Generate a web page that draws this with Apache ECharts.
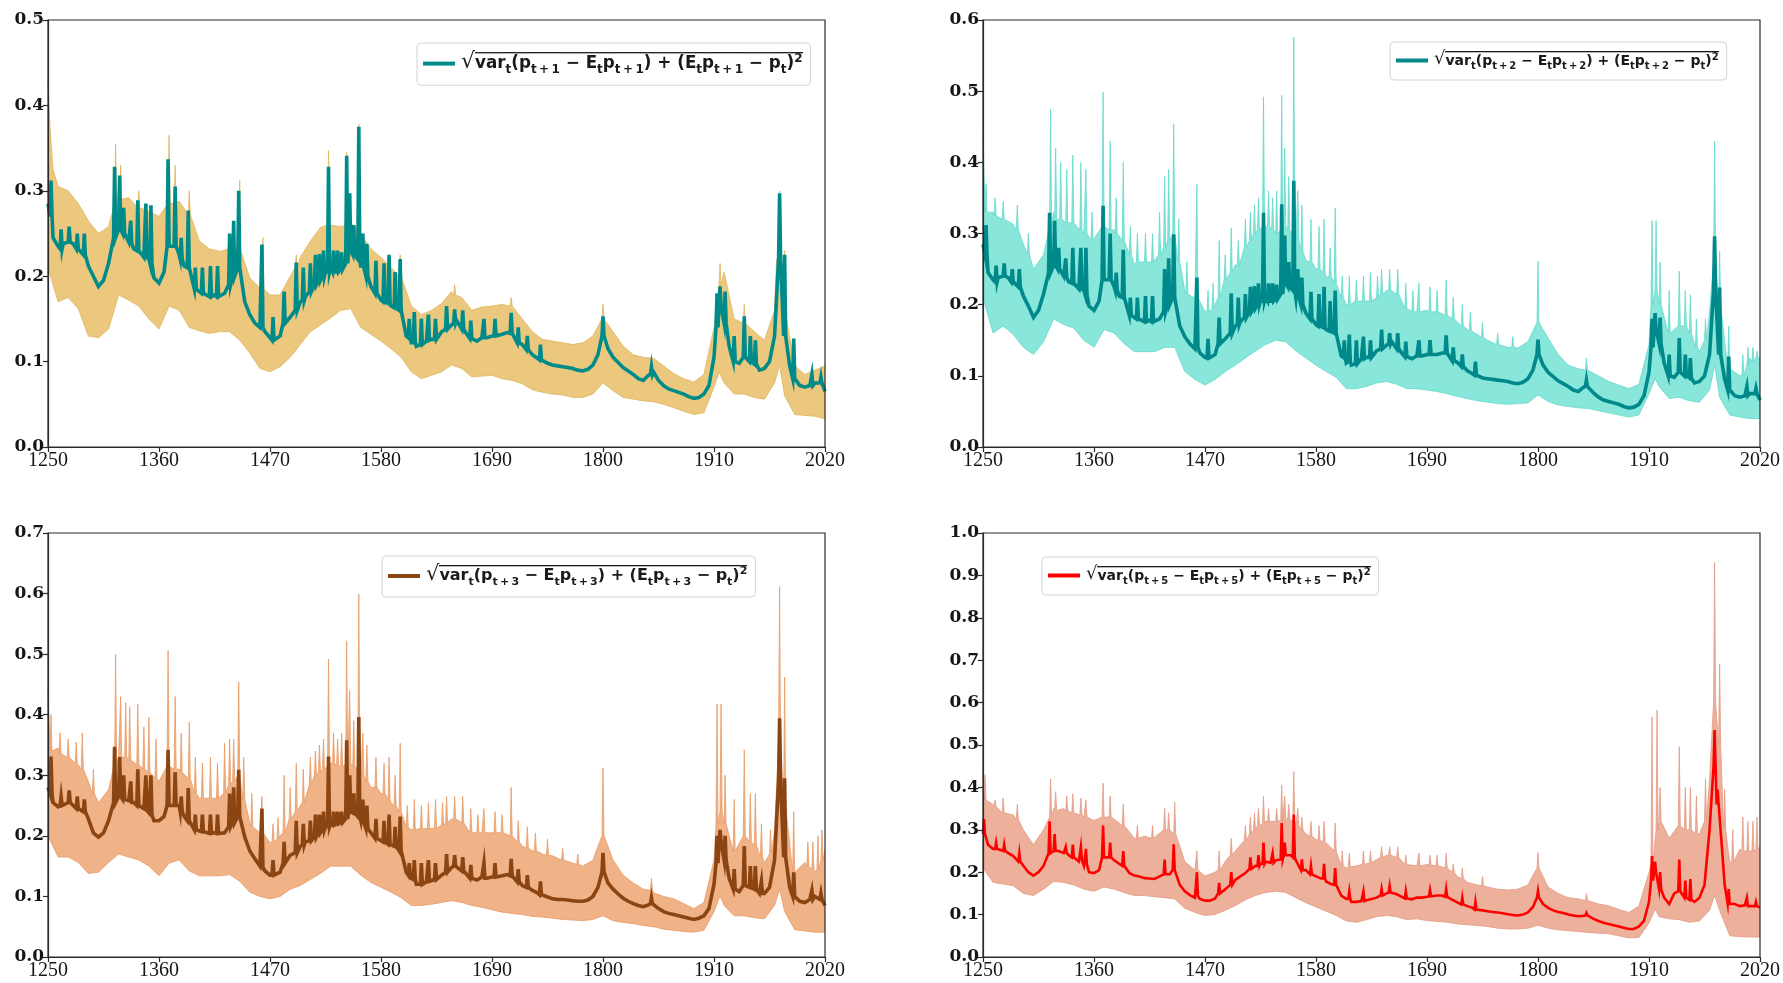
<!DOCTYPE html>
<html>
<head>
<meta charset="utf-8">
<script src="https://cdn.jsdelivr.net/npm/echarts@6/dist/echarts.min.js"></script>
<style>
  html, body { margin: 0; padding: 0; background: #ffffff; }
  #chart { width: 1783px; height: 983px; }
</style>
</head>
<body>
<div id="chart"></div>
<script>
// x-axis tick labels
const tickYears = [1250, 1360, 1470, 1580, 1690, 1800, 1910, 2020];

// sampling grids: 5-year steps for the point estimates, 10-year steps for the bands
const midYears = [];
for (let y = 1250; y <= 2020; y += 5) midYears.push(y);
const bandYears = [];
for (let y = 1250; y <= 2020; y += 10) bandYears.push(y);

// ---- horizon 1 ----
const midH1 = [
  0.285,0.245,0.235,0.238,0.252,0.238,0.232,0.245,0.212,0.200,
  0.188,0.195,0.215,0.245,0.255,0.245,0.240,0.232,0.228,0.222,
  0.220,0.198,0.192,0.205,0.245,0.240,0.225,0.212,0.205,0.188,
  0.182,0.180,0.176,0.178,0.174,0.180,0.200,0.200,0.215,0.170,
  0.155,0.145,0.140,0.135,0.128,0.125,0.130,0.148,0.152,0.165,
  0.170,0.176,0.185,0.190,0.198,0.205,0.210,0.205,0.208,0.215,
  0.240,0.225,0.210,0.200,0.188,0.180,0.172,0.168,0.165,0.162,
  0.150,0.130,0.122,0.118,0.120,0.124,0.126,0.130,0.135,0.140,
  0.143,0.148,0.140,0.132,0.125,0.124,0.128,0.128,0.130,0.130,
  0.132,0.134,0.133,0.125,0.120,0.114,0.108,0.104,0.100,0.098,
  0.096,0.095,0.094,0.093,0.092,0.090,0.089,0.091,0.096,0.108,
  0.140,0.115,0.105,0.099,0.093,0.089,0.085,0.080,0.078,0.084,
  0.088,0.078,0.072,0.068,0.066,0.064,0.062,0.059,0.057,0.058,
  0.062,0.072,0.105,0.165,0.150,0.118,0.100,0.098,0.105,0.100,
  0.098,0.090,0.092,0.100,0.130,0.250,0.140,0.095,0.078,0.072,
  0.070,0.072,0.075,0.078,0.065
];
// [year, peak, level either side]
const midH1Spikes = [
  [1253,0.312,0.27],[1263,0.255,0.232],[1271,0.258,0.24],[1279,0.25,0.232],[1286,0.25,0.225],
  [1316,0.328,0.245],[1321,0.318,0.255],[1325,0.28,0.25],[1332,0.265,0.238],[1339,0.289,0.23],[1347,0.285,0.222],[1352,0.283,0.215],
  [1369,0.337,0.235],[1376,0.305,0.235],[1382,0.245,0.22],[1389,0.277,0.21],[1396,0.21,0.185],
  [1403,0.21,0.18],[1411,0.212,0.176],[1418,0.212,0.176],[1430,0.25,0.19],[1434,0.265,0.2],[1439,0.3,0.21],
  [1462,0.237,0.14],[1473,0.152,0.125],[1484,0.182,0.145],[1496,0.216,0.16],[1503,0.21,0.172],
  [1510,0.215,0.182],[1515,0.225,0.19],[1519,0.226,0.195],[1523,0.23,0.2],[1528,0.328,0.205],[1533,0.23,0.205],[1537,0.23,0.205],[1541,0.228,0.208],
  [1546,0.341,0.215],[1549,0.297,0.23],[1553,0.26,0.225],[1558,0.375,0.22],[1562,0.25,0.21],[1566,0.238,0.2],[1575,0.218,0.18],[1583,0.215,0.17],[1588,0.225,0.168],[1594,0.205,0.163],[1599,0.22,0.16],
  [1608,0.15,0.128],[1613,0.158,0.122],[1620,0.15,0.12],[1627,0.155,0.125],[1634,0.15,0.126],[1645,0.165,0.138],[1653,0.161,0.145],[1661,0.16,0.138],[1669,0.148,0.127],[1682,0.15,0.128],[1693,0.15,0.13],
  [1709,0.157,0.133],[1716,0.14,0.122],[1725,0.13,0.114],[1738,0.12,0.102],
  [1800,0.153,0.13],[1848,0.094,0.085],
  [1913,0.18,0.14],[1916,0.188,0.165],[1921,0.182,0.145],[1930,0.13,0.1],[1940,0.153,0.105],[1946,0.13,0.1],[1951,0.125,0.097],
  [1975,0.297,0.22],[1980,0.225,0.13],[1989,0.127,0.08],[2007,0.085,0.072],[2016,0.082,0.075]
];
const upperH1 = [
  0.430,0.305,0.300,0.285,0.265,0.250,0.258,0.300,0.292,0.282,
  0.276,0.270,0.300,0.288,0.272,0.241,0.232,0.229,0.232,0.260,
  0.198,0.186,0.178,0.178,0.200,0.222,0.241,0.257,0.262,0.258,
  0.262,0.250,0.232,0.222,0.210,0.200,0.165,0.155,0.160,0.168,
  0.182,0.175,0.160,0.164,0.165,0.167,0.165,0.150,0.135,0.126,
  0.124,0.122,0.120,0.122,0.130,0.160,0.135,0.118,0.108,0.105,
  0.104,0.095,0.086,0.080,0.076,0.085,0.140,0.205,0.150,0.150,
  0.135,0.125,0.160,0.160,0.095,0.085,0.090,0.095
];
const upperH1Extra = [
  [1252,0.375],[1255,0.325],
  [1317,0.355,0.285],[1322,0.33,0.29],[1340,0.30,0.28],[1370,0.365,0.285],[1376,0.33,0.285],[1390,0.30,0.272],
  [1440,0.312,0.23],[1463,0.245,0.185],[1496,0.225,0.21],[1528,0.347,0.26],[1546,0.345,0.26],[1558,0.378,0.255],
  [1599,0.225,0.2],[1653,0.19,0.178],[1709,0.175,0.165],[1800,0.167,0.15],[1916,0.215,0.19],[1940,0.167,0.145],
  [1972,0.22],[1975,0.30,0.2],[1980,0.23,0.155]
];
const lowerH1 = [
  0.210,0.170,0.175,0.162,0.130,0.128,0.138,0.178,0.172,0.165,
  0.150,0.138,0.165,0.160,0.140,0.136,0.133,0.135,0.135,0.125,
  0.110,0.092,0.088,0.094,0.105,0.120,0.135,0.143,0.151,0.160,
  0.162,0.140,0.132,0.124,0.115,0.105,0.088,0.080,0.084,0.088,
  0.096,0.092,0.082,0.083,0.084,0.080,0.078,0.074,0.067,0.064,
  0.062,0.061,0.058,0.058,0.062,0.075,0.066,0.058,0.056,0.054,
  0.053,0.050,0.046,0.042,0.038,0.040,0.070,0.075,0.062,0.062,
  0.058,0.056,0.075,0.060,0.038,0.037,0.036,0.033
];
const lowerH1Extra = [[1915,0.088],[1975,0.096]];

// ---- horizon 2 ----
const midH2 = [
  0.285,0.245,0.235,0.238,0.252,0.238,0.232,0.245,0.212,0.198,
  0.182,0.192,0.215,0.245,0.255,0.245,0.240,0.232,0.228,0.222,
  0.220,0.198,0.192,0.205,0.245,0.240,0.225,0.212,0.205,0.188,
  0.182,0.180,0.176,0.178,0.174,0.180,0.200,0.200,0.215,0.170,
  0.155,0.145,0.138,0.132,0.126,0.124,0.130,0.148,0.152,0.165,
  0.170,0.176,0.185,0.190,0.198,0.205,0.210,0.205,0.208,0.215,
  0.240,0.225,0.210,0.200,0.188,0.180,0.172,0.168,0.165,0.160,
  0.150,0.128,0.118,0.115,0.118,0.124,0.126,0.130,0.135,0.140,
  0.143,0.148,0.140,0.132,0.125,0.124,0.128,0.128,0.130,0.130,
  0.130,0.132,0.131,0.124,0.119,0.113,0.107,0.103,0.099,0.097,
  0.096,0.095,0.094,0.093,0.092,0.090,0.089,0.091,0.096,0.108,
  0.140,0.115,0.105,0.099,0.093,0.089,0.085,0.080,0.078,0.084,
  0.086,0.076,0.070,0.066,0.064,0.062,0.060,0.057,0.055,0.056,
  0.060,0.072,0.105,0.165,0.150,0.118,0.100,0.098,0.105,0.100,
  0.098,0.090,0.092,0.100,0.130,0.250,0.140,0.095,0.078,0.072,
  0.070,0.072,0.075,0.078,0.066
];
const midH2Spikes = [
  [1253,0.312,0.27],[1263,0.255,0.232],[1271,0.258,0.24],[1279,0.25,0.232],[1286,0.25,0.225],
  [1316,0.329,0.245],[1321,0.318,0.255],[1325,0.28,0.25],[1332,0.265,0.238],[1339,0.28,0.23],[1347,0.28,0.222],[1352,0.28,0.215],
  [1369,0.339,0.235],[1376,0.30,0.235],[1382,0.245,0.22],[1389,0.277,0.21],[1396,0.21,0.185],
  [1403,0.21,0.18],[1411,0.212,0.176],[1418,0.212,0.176],[1430,0.25,0.19],[1434,0.265,0.2],[1439,0.299,0.21],
  [1462,0.238,0.14],[1473,0.152,0.125],[1484,0.182,0.145],[1496,0.216,0.16],[1503,0.21,0.172],
  [1510,0.215,0.182],[1515,0.225,0.19],[1519,0.226,0.195],[1523,0.23,0.2],[1528,0.329,0.205],[1533,0.23,0.205],[1537,0.23,0.205],[1541,0.228,0.208],
  [1546,0.341,0.215],[1549,0.297,0.23],[1553,0.26,0.225],[1558,0.374,0.22],[1562,0.25,0.21],[1566,0.238,0.2],[1575,0.218,0.18],[1583,0.215,0.17],[1588,0.225,0.168],[1594,0.205,0.163],[1599,0.22,0.16],
  [1608,0.15,0.126],[1613,0.158,0.12],[1620,0.15,0.117],[1627,0.155,0.124],[1634,0.15,0.126],[1645,0.165,0.138],[1653,0.16,0.145],[1661,0.16,0.138],[1669,0.148,0.127],[1682,0.15,0.128],[1693,0.15,0.13],
  [1709,0.157,0.132],[1716,0.14,0.121],[1725,0.13,0.113],[1738,0.12,0.101],
  [1800,0.151,0.13],[1848,0.094,0.085],
  [1913,0.18,0.14],[1916,0.188,0.165],[1921,0.182,0.145],[1930,0.13,0.1],[1940,0.153,0.105],[1946,0.13,0.1],[1951,0.125,0.097],
  [1975,0.296,0.22],[1980,0.224,0.13],[1989,0.127,0.08],[2007,0.085,0.072],[2016,0.082,0.075]
];
const upperH2 = [
  0.440,0.330,0.320,0.313,0.285,0.250,0.270,0.330,0.318,0.318,
  0.300,0.290,0.320,0.305,0.300,0.256,0.262,0.262,0.290,0.300,
  0.219,0.209,0.190,0.200,0.238,0.256,0.285,0.305,0.310,0.300,
  0.310,0.290,0.262,0.250,0.238,0.222,0.200,0.205,0.205,0.212,
  0.220,0.215,0.195,0.190,0.192,0.190,0.185,0.176,0.165,0.158,
  0.150,0.144,0.140,0.139,0.148,0.180,0.153,0.130,0.115,0.110,
  0.106,0.100,0.092,0.087,0.082,0.088,0.144,0.220,0.160,0.170,
  0.165,0.134,0.190,0.200,0.110,0.100,0.125,0.125
];
const upperH2Extra = [
  [1253,0.37,0.33],[1262,0.35,0.325],[1270,0.345,0.32],[1284,0.34,0.305],[1295,0.30,0.27],
  [1317,0.475,0.31],[1322,0.42,0.32],[1327,0.40,0.32],[1333,0.39,0.315],[1339,0.41,0.315],[1347,0.40,0.305],[1352,0.39,0.3],[1358,0.33,0.29],
  [1369,0.499,0.31],[1376,0.43,0.305],[1382,0.35,0.3],[1389,0.40,0.29],[1396,0.31,0.27],
  [1403,0.30,0.26],[1411,0.30,0.26],[1418,0.30,0.26],[1425,0.33,0.27],[1430,0.38,0.28],[1434,0.39,0.29],[1439,0.454,0.3],[1444,0.32,0.26],
  [1452,0.26,0.215],[1462,0.369,0.21],[1473,0.22,0.19],[1478,0.23,0.195],[1484,0.29,0.21],[1490,0.27,0.235],[1496,0.308,0.245],[1503,0.29,0.255],
  [1510,0.32,0.28],[1515,0.33,0.29],[1519,0.34,0.3],[1523,0.35,0.305],[1528,0.492,0.31],[1533,0.36,0.31],[1537,0.35,0.305],[1541,0.36,0.3],
  [1546,0.494,0.305],[1549,0.42,0.31],[1553,0.38,0.305],[1558,0.576,0.3],[1562,0.36,0.29],[1566,0.34,0.275],[1575,0.32,0.26],[1583,0.31,0.25],[1588,0.32,0.245],[1594,0.28,0.24],[1599,0.336,0.23],
  [1606,0.24,0.21],[1613,0.24,0.2],[1620,0.235,0.205],[1627,0.24,0.205],[1634,0.245,0.205],[1641,0.24,0.21],[1645,0.25,0.215],[1653,0.25,0.22],[1661,0.25,0.215],[1669,0.23,0.195],[1676,0.22,0.19],[1682,0.23,0.19],[1693,0.225,0.19],[1700,0.22,0.19],
  [1709,0.235,0.185],[1716,0.21,0.18],[1725,0.20,0.17],[1733,0.19,0.163],[1745,0.175,0.154],[1760,0.16,0.144],[1775,0.155,0.14],
  [1800,0.261,0.175],[1848,0.125,0.108],
  [1913,0.318,0.2],[1917,0.318,0.22],[1921,0.26,0.2],[1930,0.22,0.16],[1940,0.247,0.17],[1946,0.22,0.17],[1951,0.214,0.16],[1957,0.18,0.14],[1966,0.18,0.15],
  [1975,0.43,0.26],[1980,0.275,0.2],[1989,0.17,0.11],[2003,0.13,0.1],[2008,0.14,0.115],[2013,0.14,0.12],[2017,0.135,0.125]
];
const lowerH2 = [
  0.210,0.160,0.170,0.158,0.140,0.130,0.148,0.180,0.172,0.167,
  0.150,0.140,0.165,0.160,0.145,0.134,0.134,0.134,0.140,0.140,
  0.106,0.095,0.087,0.095,0.106,0.115,0.125,0.135,0.144,0.150,
  0.148,0.135,0.125,0.115,0.106,0.098,0.082,0.082,0.085,0.090,
  0.092,0.088,0.082,0.082,0.080,0.078,0.075,0.071,0.068,0.065,
  0.063,0.061,0.060,0.061,0.062,0.073,0.064,0.059,0.057,0.055,
  0.054,0.051,0.048,0.045,0.042,0.045,0.075,0.085,0.068,0.070,
  0.065,0.063,0.080,0.070,0.045,0.042,0.040,0.040
];
const lowerH2Extra = [[1916,0.096],[1975,0.115]];

// ---- horizon 3 ----
const midH3 = [
  0.280,0.255,0.248,0.250,0.260,0.250,0.248,0.250,0.228,0.205,
  0.198,0.205,0.225,0.258,0.268,0.262,0.258,0.255,0.250,0.245,
  0.238,0.225,0.225,0.232,0.258,0.255,0.250,0.232,0.225,0.210,
  0.208,0.205,0.203,0.205,0.203,0.205,0.220,0.222,0.235,0.198,
  0.175,0.162,0.150,0.142,0.135,0.133,0.140,0.160,0.168,0.178,
  0.183,0.190,0.197,0.200,0.208,0.215,0.220,0.218,0.222,0.228,
  0.250,0.238,0.225,0.215,0.205,0.198,0.192,0.188,0.185,0.180,
  0.165,0.140,0.130,0.120,0.120,0.124,0.126,0.130,0.135,0.142,
  0.148,0.152,0.145,0.136,0.128,0.127,0.132,0.130,0.132,0.134,
  0.134,0.136,0.135,0.126,0.118,0.114,0.110,0.106,0.102,0.099,
  0.096,0.095,0.095,0.094,0.093,0.092,0.092,0.094,0.100,0.115,
  0.150,0.122,0.112,0.104,0.097,0.092,0.088,0.085,0.083,0.086,
  0.090,0.080,0.075,0.072,0.070,0.068,0.066,0.064,0.062,0.064,
  0.068,0.080,0.120,0.195,0.170,0.130,0.110,0.108,0.120,0.112,
  0.118,0.105,0.105,0.115,0.160,0.330,0.170,0.115,0.098,0.092,
  0.090,0.095,0.100,0.100,0.085
];
const midH3Spikes = [
  [1253,0.331,0.27],[1263,0.265,0.25],[1271,0.275,0.255],[1279,0.265,0.245],[1286,0.26,0.24],
  [1316,0.347,0.255],[1321,0.33,0.265],[1325,0.30,0.26],[1332,0.29,0.255],[1339,0.31,0.25],[1347,0.30,0.242],[1352,0.30,0.235],
  [1369,0.342,0.25],[1376,0.305,0.25],[1382,0.265,0.24],[1389,0.279,0.225],[1396,0.235,0.21],
  [1403,0.235,0.207],[1411,0.235,0.204],[1418,0.235,0.204],[1430,0.27,0.215],[1434,0.28,0.222],[1439,0.309,0.232],
  [1462,0.245,0.148],[1473,0.16,0.135],[1484,0.19,0.155],[1496,0.225,0.172],[1503,0.22,0.185],
  [1510,0.225,0.192],[1515,0.235,0.198],[1519,0.235,0.205],[1523,0.24,0.21],[1528,0.331,0.215],[1533,0.24,0.218],[1537,0.24,0.22],[1541,0.24,0.222],
  [1546,0.358,0.228],[1549,0.30,0.24],[1553,0.27,0.238],[1558,0.396,0.232],[1562,0.26,0.222],[1566,0.25,0.212],[1575,0.228,0.196],[1583,0.225,0.19],[1588,0.235,0.186],[1594,0.215,0.183],[1599,0.232,0.175],
  [1608,0.155,0.135],[1613,0.16,0.128],[1620,0.155,0.12],[1627,0.16,0.125],[1634,0.155,0.128],[1645,0.17,0.14],[1653,0.168,0.15],[1661,0.165,0.142],[1669,0.152,0.13],[1682,0.155,0.13],[1693,0.155,0.132],
  [1709,0.162,0.134],[1716,0.145,0.124],[1725,0.135,0.115],[1738,0.125,0.103],
  [1800,0.172,0.14],[1848,0.098,0.088],
  [1913,0.2,0.155],[1916,0.21,0.19],[1921,0.2,0.16],[1930,0.145,0.112],[1940,0.183,0.118],[1946,0.15,0.115],[1951,0.15,0.112],[1957,0.125,0.105],
  [1975,0.394,0.29],[1980,0.295,0.165],[1989,0.14,0.1],[2007,0.11,0.095],[2016,0.105,0.095]
];
const upperH3 = [
  0.440,0.345,0.330,0.320,0.290,0.255,0.276,0.330,0.325,0.318,
  0.305,0.290,0.330,0.310,0.300,0.262,0.262,0.262,0.290,0.300,
  0.221,0.205,0.189,0.200,0.228,0.250,0.290,0.310,0.320,0.315,
  0.320,0.300,0.280,0.270,0.255,0.235,0.210,0.212,0.212,0.220,
  0.228,0.222,0.205,0.205,0.205,0.205,0.200,0.183,0.175,0.170,
  0.167,0.160,0.155,0.150,0.160,0.200,0.160,0.135,0.122,0.112,
  0.106,0.100,0.096,0.088,0.080,0.090,0.160,0.240,0.175,0.200,
  0.190,0.155,0.210,0.300,0.135,0.156,0.140,0.178
];
const upperH3Extra = [
  [1253,0.40,0.34],[1262,0.37,0.335],[1270,0.36,0.33],[1278,0.355,0.32],[1284,0.37,0.31],[1295,0.31,0.27],
  [1317,0.50,0.32],[1322,0.43,0.33],[1327,0.42,0.33],[1331,0.413,0.325],[1339,0.418,0.318],[1345,0.38,0.31],[1350,0.396,0.305],[1357,0.36,0.295],
  [1369,0.506,0.315],[1376,0.43,0.31],[1382,0.37,0.305],[1390,0.388,0.295],[1396,0.33,0.27],
  [1403,0.32,0.262],[1411,0.33,0.262],[1418,0.32,0.262],[1425,0.353,0.27],[1430,0.36,0.285],[1434,0.36,0.29],[1439,0.454,0.3],[1444,0.33,0.26],
  [1452,0.27,0.215],[1462,0.265,0.205],[1473,0.22,0.19],[1478,0.23,0.195],[1484,0.3,0.205],[1490,0.28,0.228],[1496,0.32,0.24],[1503,0.31,0.255],
  [1510,0.33,0.285],[1515,0.34,0.3],[1519,0.35,0.305],[1523,0.36,0.31],[1528,0.492,0.315],[1533,0.37,0.32],[1537,0.36,0.315],[1541,0.37,0.315],
  [1546,0.522,0.318],[1549,0.44,0.32],[1553,0.39,0.315],[1558,0.599,0.31],[1562,0.37,0.3],[1566,0.35,0.29],[1575,0.33,0.28],[1583,0.32,0.27],[1588,0.33,0.26],[1594,0.3,0.25],[1599,0.353,0.24],
  [1606,0.25,0.215],[1613,0.26,0.21],[1620,0.25,0.212],[1627,0.255,0.212],[1634,0.26,0.212],[1641,0.255,0.218],[1645,0.265,0.222],[1653,0.265,0.228],[1661,0.265,0.222],[1669,0.245,0.205],[1676,0.235,0.205],[1682,0.245,0.205],[1693,0.24,0.205],[1700,0.235,0.205],
  [1709,0.28,0.2],[1716,0.225,0.19],[1725,0.215,0.18],[1733,0.205,0.175],[1745,0.195,0.168],[1760,0.18,0.16],[1775,0.17,0.153],
  [1800,0.312,0.2],[1848,0.13,0.11],
  [1913,0.418,0.22],[1917,0.418,0.24],[1921,0.30,0.22],[1930,0.26,0.175],[1940,0.342,0.2],[1946,0.27,0.19],[1951,0.27,0.185],[1957,0.22,0.165],[1966,0.21,0.17],
  [1975,0.612,0.35],[1980,0.462,0.25],[1989,0.24,0.14],[2003,0.19,0.15],[2008,0.19,0.145],[2013,0.2,0.145],[2017,0.21,0.16]
];
const lowerH3 = [
  0.200,0.165,0.165,0.156,0.138,0.140,0.156,0.170,0.165,0.160,
  0.150,0.134,0.155,0.160,0.142,0.134,0.134,0.134,0.136,0.125,
  0.107,0.100,0.096,0.100,0.112,0.118,0.128,0.138,0.150,0.150,
  0.150,0.135,0.123,0.115,0.107,0.098,0.085,0.085,0.087,0.090,
  0.093,0.090,0.085,0.082,0.078,0.074,0.072,0.070,0.067,0.066,
  0.064,0.062,0.061,0.060,0.062,0.068,0.060,0.057,0.055,0.052,
  0.050,0.046,0.044,0.042,0.041,0.044,0.075,0.085,0.068,0.068,
  0.065,0.063,0.085,0.075,0.045,0.043,0.041,0.041
];
const lowerH3Extra = [[1916,0.101],[1975,0.112]];

// ---- horizon 5 ----
const midH5 = [
  0.300,0.265,0.255,0.255,0.250,0.245,0.238,0.230,0.215,0.200,
  0.192,0.200,0.215,0.240,0.255,0.250,0.245,0.240,0.232,0.225,
  0.215,0.200,0.198,0.205,0.235,0.240,0.228,0.220,0.215,0.198,
  0.192,0.190,0.186,0.185,0.184,0.190,0.200,0.195,0.215,0.170,
  0.155,0.146,0.140,0.137,0.133,0.133,0.138,0.150,0.160,0.172,
  0.182,0.190,0.198,0.210,0.215,0.220,0.225,0.222,0.228,0.235,
  0.245,0.240,0.228,0.215,0.205,0.198,0.190,0.185,0.178,0.172,
  0.160,0.145,0.137,0.130,0.130,0.132,0.134,0.137,0.140,0.145,
  0.150,0.155,0.148,0.142,0.137,0.136,0.140,0.140,0.142,0.144,
  0.145,0.145,0.142,0.135,0.129,0.124,0.120,0.116,0.113,0.110,
  0.108,0.106,0.105,0.103,0.101,0.099,0.098,0.100,0.105,0.118,
  0.150,0.125,0.116,0.110,0.106,0.104,0.100,0.098,0.096,0.097,
  0.098,0.090,0.085,0.081,0.078,0.075,0.072,0.069,0.066,0.066,
  0.072,0.085,0.130,0.220,0.170,0.140,0.125,0.150,0.160,0.140,
  0.135,0.130,0.140,0.170,0.300,0.480,0.330,0.170,0.130,0.125,
  0.120,0.122,0.120,0.125,0.117
];
const midH5Spikes = [
  [1251,0.325,0.29],[1263,0.27,0.255],[1271,0.265,0.25],[1286,0.245,0.225],
  [1316,0.32,0.245],[1321,0.29,0.25],[1332,0.26,0.245],[1339,0.265,0.235],[1347,0.26,0.228],[1352,0.255,0.218],
  [1369,0.31,0.235],[1376,0.27,0.235],[1389,0.25,0.215],
  [1430,0.23,0.195],[1439,0.266,0.205],
  [1462,0.2,0.143],[1484,0.175,0.15],[1496,0.2,0.17],
  [1515,0.235,0.208],[1523,0.24,0.215],[1528,0.27,0.22],[1537,0.245,0.222],[1546,0.316,0.23],[1549,0.27,0.24],[1558,0.336,0.235],[1566,0.23,0.205],[1575,0.215,0.195],[1588,0.22,0.185],[1599,0.21,0.17],
  [1613,0.155,0.137],[1627,0.155,0.132],[1645,0.16,0.145],[1653,0.168,0.152],[1669,0.155,0.138],[1693,0.158,0.143],[1709,0.16,0.142],[1725,0.14,0.124],[1738,0.13,0.112],
  [1800,0.156,0.14],[1848,0.104,0.098],
  [1913,0.238,0.18],[1916,0.225,0.2],[1921,0.2,0.16],[1940,0.23,0.155],[1946,0.18,0.14],[1951,0.184,0.135],
  [1975,0.535,0.45],[1978,0.395,0.36],[1989,0.16,0.125],[2007,0.14,0.12],[2016,0.13,0.12]
];
const upperH5 = [
  0.440,0.360,0.340,0.335,0.300,0.265,0.300,0.350,0.350,0.345,
  0.330,0.322,0.340,0.325,0.316,0.280,0.285,0.280,0.300,0.300,
  0.225,0.205,0.191,0.200,0.225,0.250,0.277,0.310,0.320,0.320,
  0.330,0.310,0.290,0.277,0.270,0.245,0.210,0.215,0.220,0.230,
  0.240,0.235,0.215,0.215,0.218,0.215,0.210,0.190,0.176,0.170,
  0.165,0.160,0.158,0.160,0.170,0.220,0.165,0.150,0.140,0.137,
  0.132,0.125,0.121,0.112,0.105,0.120,0.200,0.330,0.280,0.320,
  0.300,0.290,0.420,0.560,0.223,0.254,0.250,0.260
];
const upperH5Extra = [
  [1252,0.43,0.37],[1262,0.37,0.355],[1270,0.375,0.34],[1284,0.36,0.325],
  [1317,0.42,0.33],[1322,0.39,0.345],[1333,0.38,0.345],[1339,0.385,0.34],[1347,0.375,0.335],[1352,0.37,0.33],
  [1369,0.41,0.33],[1376,0.38,0.33],[1389,0.36,0.31],
  [1403,0.31,0.28],[1418,0.31,0.28],[1430,0.35,0.3],[1434,0.34,0.3],[1440,0.365,0.29],
  [1462,0.25,0.205],[1484,0.25,0.205],[1496,0.28,0.24],
  [1510,0.31,0.275],[1515,0.33,0.29],[1519,0.34,0.3],[1523,0.35,0.31],[1528,0.379,0.315],[1533,0.35,0.32],[1541,0.35,0.32],
  [1546,0.406,0.322],[1549,0.38,0.325],[1553,0.36,0.325],[1558,0.4375,0.32],[1562,0.35,0.31],[1566,0.33,0.3],[1575,0.32,0.285],[1583,0.31,0.275],[1588,0.32,0.272],[1599,0.316,0.25],
  [1606,0.25,0.215],[1613,0.245,0.212],[1627,0.25,0.218],[1634,0.25,0.222],[1645,0.26,0.235],[1653,0.26,0.24],[1661,0.26,0.235],[1669,0.24,0.218],[1682,0.245,0.215],[1693,0.24,0.217],[1700,0.24,0.215],
  [1709,0.245,0.21],[1716,0.22,0.2],[1725,0.21,0.185],[1745,0.19,0.168],
  [1800,0.246,0.21],[1848,0.15,0.133],
  [1913,0.566,0.22],[1918,0.582,0.3],[1921,0.4,0.32],[1940,0.496,0.31],[1946,0.40,0.3],[1951,0.40,0.3],[1957,0.38,0.29],[1966,0.42,0.32],
  [1975,0.93,0.6],[1980,0.69,0.5],[1985,0.395,0.3],[1993,0.3,0.225],[2003,0.33,0.25],[2008,0.32,0.25],[2013,0.32,0.25],[2017,0.33,0.255]
];
const lowerH5 = [
  0.210,0.176,0.172,0.168,0.150,0.145,0.160,0.178,0.176,0.170,
  0.160,0.155,0.165,0.160,0.152,0.145,0.145,0.142,0.140,0.137,
  0.115,0.105,0.098,0.100,0.110,0.121,0.135,0.145,0.152,0.155,
  0.152,0.140,0.128,0.118,0.108,0.098,0.085,0.082,0.088,0.095,
  0.098,0.095,0.088,0.090,0.086,0.084,0.082,0.078,0.076,0.074,
  0.072,0.068,0.066,0.066,0.068,0.075,0.068,0.064,0.062,0.060,
  0.058,0.056,0.055,0.050,0.045,0.046,0.080,0.095,0.090,0.088,
  0.082,0.085,0.110,0.110,0.050,0.048,0.047,0.047
];
const lowerH5Extra = [[1916,0.113],[1975,0.145]];

// merge a regular grid with needle peaks [year, peak, side] and extra points [year, value]
function buildPath(gridYears, base, extra) {
  const spikes = extra.filter(e => e.length === 3);
  const pts = [];
  gridYears.forEach((y, i) => {
    if (base[i] == null) return;
    if (!spikes.some(s => Math.abs(s[0] - y) <= 1)) pts.push([y, base[i]]);
  });
  extra.forEach(e => {
    if (e.length === 3) {
      pts.push([e[0] - 1, e[2]], [e[0], e[1]], [e[0] + 1, e[2]]);
    } else {
      pts.push([e[0], e[1]]);
    }
  });
  pts.sort((a, b) => a[0] - b[0]);
  return pts;
}

// legend label: sqrt(var_t(p_{t+h} - E_t p_{t+h}) + (E_t p_{t+h} - p_t)^2) with an overline over the radicand
function legendRich(m) {
  const s = Math.round(m * 0.7);
  const ol = 3;
  const cMain = ol + 0.68 * m;
  const base = cMain + 0.35 * m;
  const ptMain = Math.round(cMain - m / 2);
  const ptSub = Math.round(base + 0.05 * m - s / 2);
  const H = ptSub + s + 2;
  const ptSup = Math.max(0, Math.round(ol + 2 + 0.38 * s - s / 2));
  const q = Math.round(m * 1.3);
  const ptSq = Math.max(0, Math.round(base - 0.35 * q - q / 2));
  const bar = document.createElement('canvas');
  bar.width = 4; bar.height = H;
  const g = bar.getContext('2d');
  g.fillStyle = '#1a1a1a';
  g.fillRect(0, ol, 4, 1.3);
  const common = { fontFamily: 'DejaVu Sans', color: '#1a1a1a', verticalAlign: 'top' };
  return {
    q: Object.assign({}, common, { fontSize: q, padding: [ptSq, 0, Math.max(0, H - ptSq - q), 1] }),
    m: Object.assign({}, common, { fontSize: m, fontWeight: 'bold', padding: [ptMain, 0, H - ptMain - m, 0], backgroundColor: { image: bar } }),
    s: Object.assign({}, common, { fontSize: s, fontWeight: 'bold', padding: [ptSub, 0, H - ptSub - s, 0], backgroundColor: { image: bar } }),
    u: Object.assign({}, common, { fontSize: s, fontWeight: 'bold', padding: [ptSup, 0, H - ptSup - s, 0], backgroundColor: { image: bar } })
  };
}
function legendText(h) {
  const th = 't\u2009+\u2009' + h;
  return '{q|√}{m|var}{s|t}{m|(p}{s|' + th + '}{m| − E}{s|t}{m|p}{s|' + th + '}{m|) + (E}{s|t}{m|p}{s|' + th + '}{m| − p}{s|t}{m|)}{u|2}';
}

const panels = [
  { key: 'h1', h: 1, ymax: 0.5, mid: midH1, midX: midH1Spikes, hi: upperH1, hiX: upperH1Extra, lo: lowerH1, loX: lowerH1Extra,
    line: '#008B8B', lw: 3.6, band: '#ECC87E', edge: '#E0B45C',
    grid: { left: 48, top: 20, width: 777, height: 427 }, legendPos: { left: 417, top: 43 }, fs: 16.8 },
  { key: 'h2', h: 2, ymax: 0.6, mid: midH2, midX: midH2Spikes, hi: upperH2, hiX: upperH2Extra, lo: lowerH2, loX: lowerH2Extra,
    line: '#00898A', lw: 3.6, band: '#88E6DA', edge: '#62D9CA',
    grid: { left: 983, top: 20, width: 777, height: 427 }, legendPos: { left: 1390, top: 42 }, fs: 14 },
  { key: 'h3', h: 3, ymax: 0.7, mid: midH3, midX: midH3Spikes, hi: upperH3, hiX: upperH3Extra, lo: lowerH3, loX: lowerH3Extra,
    line: '#8B4513', lw: 3.6, band: '#F0B287', edge: '#E89B66',
    grid: { left: 48, top: 533, width: 777, height: 424 }, legendPos: { left: 382, top: 556 }, fs: 16 },
  { key: 'h5', h: 5, ymax: 1.0, mid: midH5, midX: midH5Spikes, hi: upperH5, hiX: upperH5Extra, lo: lowerH5, loX: lowerH5Extra,
    line: '#FF0000', lw: 2.6, band: '#ECB09B', edge: '#E39B83',
    grid: { left: 983, top: 533, width: 777, height: 424 }, legendPos: { left: 1042, top: 557 }, fs: 14 }
];

const option = {
  animation: false,
  backgroundColor: '#ffffff',
  grid: [], xAxis: [], yAxis: [], series: [], legend: []
};

panels.forEach((p, k) => {
  option.grid.push(Object.assign({ show: true, z: 10, borderColor: '#2a2a2a', borderWidth: 1.2, backgroundColor: 'transparent' }, p.grid));
  option.xAxis.push({
    type: 'value', gridIndex: k, min: 1250, max: 2020, z: 10,
    axisLine: { show: true, lineStyle: { color: '#2a2a2a', width: 1.2 } },
    axisTick: { show: true, length: 5, customValues: tickYears, lineStyle: { color: '#2a2a2a', width: 1.2 } },
    axisLabel: { customValues: tickYears, formatter: v => String(v), fontFamily: 'Liberation Serif', fontSize: 20, color: '#151515', margin: 4 },
    splitLine: { show: false }
  });
  option.yAxis.push({
    type: 'value', gridIndex: k, min: 0, max: p.ymax, interval: 0.1, z: 10,
    axisLine: { show: true, lineStyle: { color: '#2a2a2a', width: 1.2 } },
    axisTick: { show: true, length: 5, lineStyle: { color: '#2a2a2a', width: 1.2 } },
    axisLabel: { formatter: v => v.toFixed(1), fontFamily: 'DejaVu Serif', fontWeight: 'bold', fontSize: 17, color: '#151515', margin: 4 },
    splitLine: { show: false }
  });
  const common = { type: 'line', xAxisIndex: k, yAxisIndex: k, showSymbol: false, symbol: 'none', silent: true, clip: true };
  option.series.push(Object.assign({}, common, {
    name: p.key + '-upper', z: 2,
    data: buildPath(bandYears, p.hi, p.hiX),
    lineStyle: { color: p.edge, width: 0.8 },
    areaStyle: { color: p.band, opacity: 1, origin: 'start' }
  }));
  option.series.push(Object.assign({}, common, {
    name: p.key + '-lower', z: 2,
    data: buildPath(bandYears, p.lo, p.loX),
    lineStyle: { color: p.edge, width: 0.8 },
    areaStyle: { color: '#ffffff', opacity: 1, origin: 'start' }
  }));
  option.series.push(Object.assign({}, common, {
    name: p.key, z: 3, color: p.line,
    data: buildPath(midYears, p.mid, p.midX),
    lineStyle: { color: p.line, width: p.lw, join: 'miter' }
  }));
  option.legend.push({
    data: [p.key], left: p.legendPos.left, top: p.legendPos.top, orient: 'horizontal',
    selectedMode: false, icon: 'rect', itemWidth: 32, itemHeight: 4,
    backgroundColor: 'rgba(255,255,255,0.85)', borderColor: '#d4d4d4', borderWidth: 1, borderRadius: 4,
    padding: [6, 8, 7, 6],
    formatter: () => legendText(p.h),
    textStyle: { rich: legendRich(p.fs) }
  });
});

const chart = echarts.init(document.getElementById('chart'), null, { renderer: 'canvas' });
chart.setOption(option);
</script>
</body>
</html>
